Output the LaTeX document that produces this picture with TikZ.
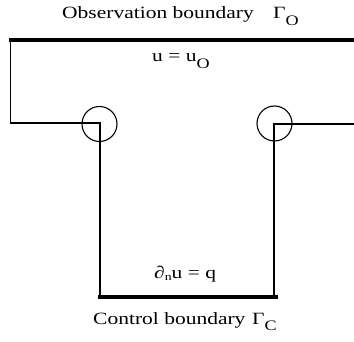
\documentclass[tikz,border=0pt]{standalone}
\usepackage{fontspec}
\setmainfont{Liberation Serif}
\newcommand\mysub[2]{\raisebox{#1}{\fontsize{14.5}{14.5}\selectfont #2}}
\newcommand\wide[1]{\scalebox{1.25}[1]{#1}}
\begin{document}
\begin{tikzpicture}[x=1pt,y=-1pt,
  wire/.style={line width=1.8pt},
  bound/.style={line width=4pt},
  hole/.style={draw,circle,line width=1.1pt,minimum size=35pt,inner sep=0pt},
  lbl/.style={anchor=base west,inner sep=0pt,font=\fontsize{17.2}{20}\selectfont}]
\useasboundingbox (0,0) rectangle (354,342);
% corner coordinates
\coordinate (tl) at (9,40);
\coordinate (tr) at (354,40);
\coordinate (l1) at (10.5,40);
\coordinate (l2) at (10.5,123);
\coordinate (lc) at (100,123);
\coordinate (lb) at (100,297);
\coordinate (rr) at (354,124);
\coordinate (rc) at (274,124);
\coordinate (rb) at (274,297);
\coordinate (bl) at (98,297);
\coordinate (br) at (278,297);
% holes
\node[hole] (hl) at (99.5,124) {};
\node[hole] (hr) at (274.5,123.5) {};
% boundaries
\draw[bound] (tl) -- (tr);
\draw[wire] (l1) -- (l2) -- (lc) -- (lb);
\draw[wire] (rr) -- (rc) -- (rb);
\draw[bound] (bl) -- (br);
% labels
\node[lbl] (obs) at (62,19) {\wide{Observation boundary}};
\node[lbl] (go) at (273,19) {\wide{Γ\mysub{-6.5pt}{O}}};
\node[lbl] (uo) at (152,62) {\wide{u = u\mysub{-6.5pt}{O}}};
\node[lbl] (dq) at (154,279) {\wide{∂\raisebox{-2pt}{\fontsize{11}{11}\selectfont n}u = q}};
\node[lbl] (ctl) at (93,324) {\wide{Control boundary}};
\node[lbl] (gc) at (252,324) {\wide{Γ\mysub{-6.5pt}{C}}};
\end{tikzpicture}
\end{document}
